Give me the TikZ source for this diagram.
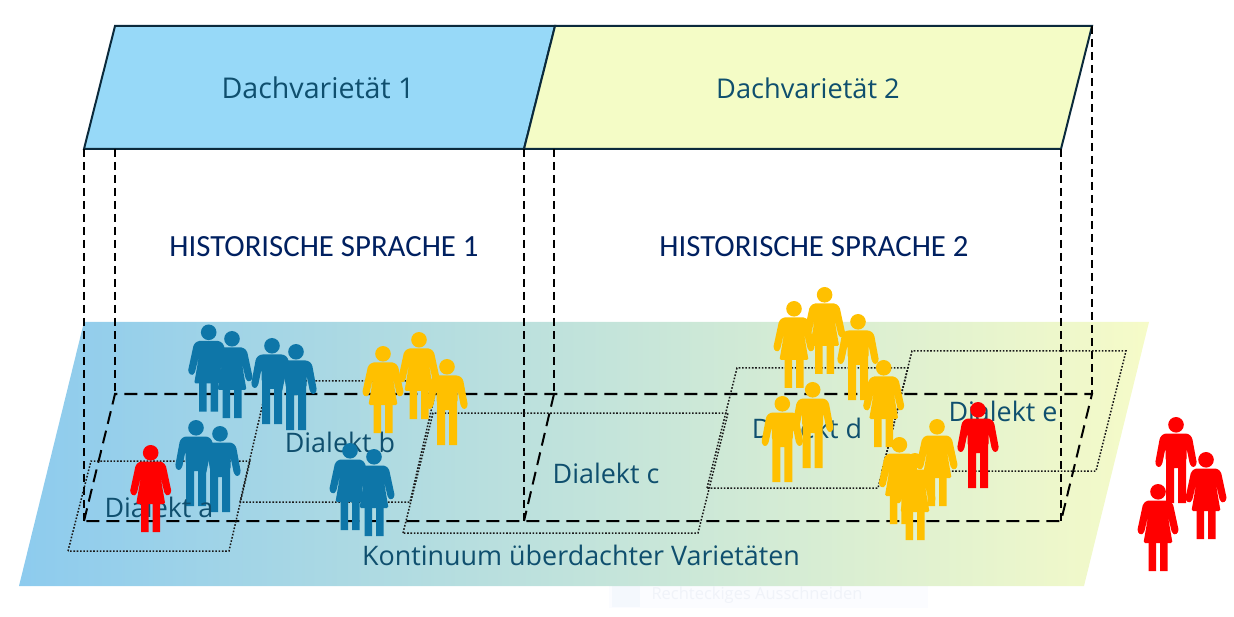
\documentclass[tikz,border=0pt]{standalone}
\usepackage{fontspec}
\setmainfont{Open Sans}
\newfontfamily\carl{Carlito}
\definecolor{skyc}{HTML}{97D9F8}
\definecolor{limec}{HTML}{F4FCC6}
\definecolor{gradl}{HTML}{8DCBEE}
\definecolor{gradr}{HTML}{F6FBC8}
\definecolor{labelc}{HTML}{0F4F6E}
\definecolor{histc}{HTML}{002060}
\definecolor{edgec}{HTML}{0B2A3C}
\definecolor{bluep}{HTML}{0E76A8}
\definecolor{yellowp}{HTML}{FFC000}
\definecolor{redp}{HTML}{FF0000}
\definecolor{tipbg}{HTML}{FBFCFF}
\definecolor{tipic}{HTML}{F4F8FD}
\definecolor{tiptx}{HTML}{F0F3F9}
\tikzset{
  dachshape/.style={draw=edgec,line width=2pt,line join=miter},
  cutline/.style={draw=black,line width=2pt,dash pattern=on 8pt off 5pt},
  planeline/.style={draw=black,line width=2pt,dash pattern=on 13pt off 7pt},
  dialektline/.style={draw=black!90,line width=1.5pt,dash pattern=on 1.6pt off 1.7pt},
  dachlabel/.style={font=\fontsize{#1}{32}\selectfont,text=labelc,inner sep=0pt},
  histlabel/.style={font=\carl\fontsize{30.8}{34}\selectfont,text=histc,inner sep=0pt},
  varlabel/.style={font=\fontsize{26.9}{30}\selectfont,text=labelc,inner sep=0pt},
  manfig/.pic={
    \fill (0,7.8) circle (7.8);
    \fill[rounded corners=2.5] (-12,16.5)--(12,16.5)--(16,20)--(21,47)--(17.5,51)--(14,48)--(10.5,31)--(10.5,44)--(-10.5,44)--(-10.5,31)--(-14,48)--(-17.5,51)--(-21,47)--(-16,20)--cycle;
    \fill (-10,38)--(10,38)--(10,86)--(2,86)--(2,51)--(-2,51)--(-2,86)--(-10,86)--cycle;
  },
  womanfig/.pic={
    \fill (0,7.8) circle (7.8);
    \fill[rounded corners=1.5] (-11,16.5)--(11,16.5)--(15,20)--(20.8,47)--(17.5,51)--(14,49)--(9.5,30)--(14.5,59)--(-14.5,59)--(-9.5,30)--(-14,49)--(-17.5,51)--(-20.8,47)--(-15,20)--cycle;
    \fill (-9.5,58)--(9.5,58)--(9.5,87)--(2,87)--(2,58)--(-2,58)--(-2,87)--(-9.5,87)--cycle;
  }
}
\begin{document}
\begin{tikzpicture}[x=1pt,y=-1pt]
\useasboundingbox (0,0) rectangle (1234,617);
% faint leftover tooltip
\fill[fill=tipbg] (609,583) rectangle (928,608);
\fill[fill=tipic] (612,584) rectangle (640,607);
\node[font=\fontsize{16.5}{18}\selectfont,text=tiptx,inner sep=0pt] (tip) at (757,595) {Rechteckiges Ausschneiden};
% base plane
\begin{scope}
\clip (19,586)--(84,322)--(1149,322)--(1084,586)--cycle;
\shade[left color=gradl,right color=gradr] (19,322) rectangle (1149,586);
\end{scope}
% roofs
\path[dachshape,fill=skyc] (84,149)--(115,26)--(555,26)--(524,149)--cycle;
\path[dachshape,fill=limec] (524,149)--(555,26)--(1092,26)--(1061,149)--cycle;
% dashed projection
\path[cutline] (84,149)--(84,521);
\path[cutline] (115,149)--(115,394);
\path[cutline] (524,149)--(524,521);
\path[cutline] (554,149)--(554,394);
\path[cutline] (1061,149)--(1061,521);
\path[cutline] (1092,26)--(1092,394);
\path[planeline] (84,521)--(115,394)--(1092,394)--(1061,521)--cycle;
\path[planeline] (554,394)--(524,521);
% dialect plots
\path[dialektline] (68,551)--(91,461)--(250,461)--(229,551)--cycle;
\path[dialektline] (240,502)--(268,381)--(438,381)--(410,502)--cycle;
\path[dialektline] (403,533)--(433,413)--(728,413)--(698,533)--cycle;
\path[dialektline] (707,488)--(737,368)--(908,368)--(878,488)--cycle;
\path[dialektline] (882,471)--(912,351)--(1126,351)--(1096,471)--cycle;
% blue men group a under label
\pic[fill=bluep,draw=bluep] at (196,420) {manfig};
\pic[fill=bluep,draw=bluep] at (220,426) {manfig};
% labels
\node[dachlabel=28.6] (dach1) at (318,88) {Dachvarietät 1};
\node[dachlabel=27.2] (dach2) at (808,88) {Dachvarietät 2};
\node[histlabel] (hist1) at (324,247) {HISTORISCHE SPRACHE 1};
\node[histlabel] (hist2) at (814,247) {HISTORISCHE SPRACHE 2};
\node[varlabel] (da) at (159,507) {Dialekt a};
\node[varlabel] (db) at (340,442) {Dialekt b};
\node[varlabel] (dc) at (606,473) {Dialekt c};
\node[varlabel] (dd) at (807,428) {Dialekt d};
\node[varlabel] (de) at (1003,411) {Dialekt e};
\node[varlabel] (kont) at (581,555) {Kontinuum überdachter Varietäten};
% people
\pic[fill=redp,draw=redp] at (150.7,445) {womanfig};
\pic[fill=bluep,draw=bluep] at (208.7,324.5) {womanfig};
\pic[fill=bluep,draw=bluep] at (232,331) {womanfig};
\pic[fill=bluep,draw=bluep] at (272,338) {manfig};
\pic[fill=bluep,draw=bluep] at (296,344) {manfig};
\pic[fill=bluep,draw=bluep] at (350,443) {womanfig};
\pic[fill=bluep,draw=bluep] at (374,449) {womanfig};
\pic[fill=yellowp,draw=yellowp] at (383,346) {womanfig};
\pic[fill=yellowp,draw=yellowp] at (419,332) {womanfig};
\pic[fill=yellowp,draw=yellowp] at (447,359) {manfig};
\pic[fill=yellowp,draw=yellowp] at (794,301) {womanfig};
\pic[fill=yellowp,draw=yellowp] at (824.6,287) {womanfig};
\pic[fill=yellowp,draw=yellowp] at (858,314) {manfig};
\pic[fill=yellowp,draw=yellowp] at (883.7,360) {womanfig};
\pic[fill=yellowp,draw=yellowp] at (782.3,396) {manfig};
\pic[fill=yellowp,draw=yellowp] at (812.7,382) {manfig};
\pic[fill=yellowp,draw=yellowp] at (937,419) {womanfig};
\pic[fill=yellowp,draw=yellowp] at (899.4,437) {womanfig};
\pic[fill=yellowp,draw=yellowp] at (915,453) {womanfig};
\pic[fill=redp,draw=redp] at (978,402) {manfig};
\pic[fill=redp,draw=redp] at (1176,417) {manfig};
\pic[fill=redp,draw=redp] at (1206,452) {womanfig};
\pic[fill=redp,draw=redp] at (1158,484) {womanfig};
\end{tikzpicture}
\end{document}
